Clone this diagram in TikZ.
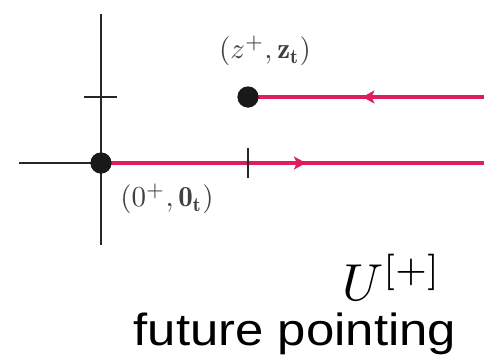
\documentclass[tikz,border=0pt]{standalone}
\usepackage{graphicx}
\usepackage{fontspec}
\newfontfamily\labelsans{Liberation Sans}
\usetikzlibrary{arrows.meta,decorations.markings}
\definecolor{pathred}{RGB}{222,30,92}
\tikzset{
  axis/.style={line width=2pt, black!85},
  pathline/.style={line width=3.2pt, pathred},
  dotnode/.style={circle, fill=black!90, minimum size=21pt, inner sep=0pt},
  mathlabel/.style={inner sep=0pt, text=black!75},
  midarrow/.style={postaction={decorate}, decoration={markings,
     mark=at position #1 with {\arrow{Stealth[length=12pt,width=13pt,inset=3pt]}}}}
}
\begin{document}
\begin{tikzpicture}[x=1pt,y=-1pt]
\useasboundingbox (0,0) rectangle (484,356);
% axes
\coordinate (vtop) at (101,14);
\coordinate (vbot) at (101,245);
\coordinate (hl) at (19,163);
\coordinate (htl) at (84,97);
\coordinate (htr) at (117,97);
\coordinate (tkt) at (248,148);
\coordinate (tkb) at (248,178);
\draw[axis] (vtop) -- (vbot);
\draw[axis] (htl) -- (htr);
\coordinate (or) at (484,163);
\coordinate (zr) at (484,97);
\node[dotnode] (o) at (101,163) {};
\node[dotnode] (z) at (248,97) {};
\draw[axis] (hl) -- (o.center);
\draw[pathline, midarrow=0.535] (o.center) -- (or);
\draw[pathline, midarrow=0.515] (zr) -- (z.center);
\draw[axis] (tkt) -- (tkb);
\node[dotnode] at (o) {};
\node[dotnode] at (z) {};
% labels
\node[mathlabel] (zl) at (265,51) {\scalebox{2.9}{$(z^+,\mathbf{z}_{\mathbf{t}})$}};
\node[mathlabel] (ol) at (167,199) {\scalebox{2.9}{$(0^+,\mathbf{0}_{\mathbf{t}})$}};
\node[inner sep=0pt, anchor=base west] (u) at (342,300) {\scalebox{5.2}{$U^{[+]}$}};
\node[inner sep=0pt, anchor=base, font=\labelsans\fontsize{45}{50}\selectfont] (fp) at (295,345) {\scalebox{1.13}[1]{future pointing}};
\end{tikzpicture}
\end{document}
